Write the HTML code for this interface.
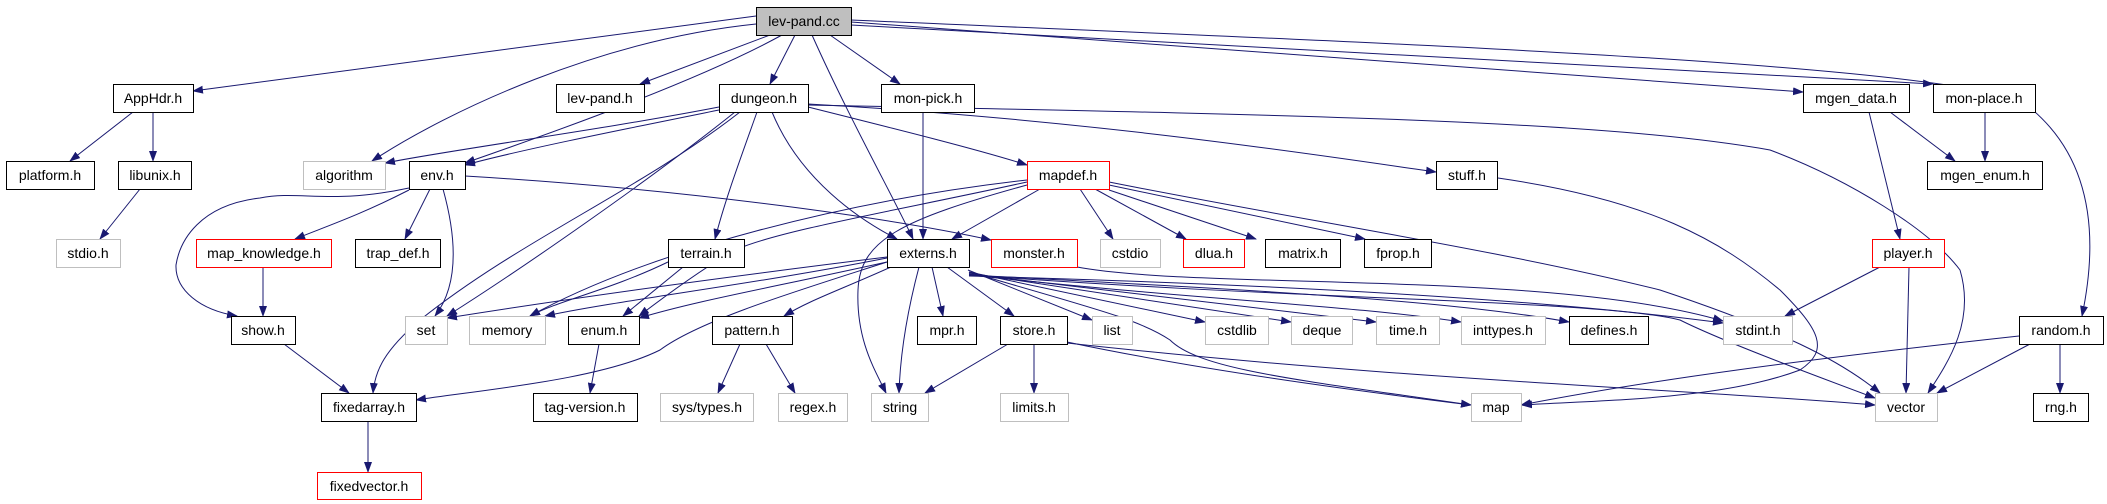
<!DOCTYPE html>
<html><head><meta charset="utf-8"><style>
html,body{margin:0;padding:0;background:#fff;}
svg{display:block;}
text{font-family:"Liberation Sans",sans-serif;font-size:14px;fill:#000;}
</style></head><body>
<svg width="2107" height="504" viewBox="0 0 2107 504" xmlns="http://www.w3.org/2000/svg">
<defs>
<marker id="a" markerWidth="11" markerHeight="8" refX="10" refY="4" orient="auto" markerUnits="userSpaceOnUse">
<path d="M0,0 L11,4 L0,8 Z" fill="#191970"/>
</marker>
</defs>
<g fill="none" stroke="#191970" stroke-width="1" marker-end="url(#a)">
<!-- lev-pand.cc -->
<path d="M756,16 L193,91"/>
<path d="M756,24 C600,40 450,110 372,161"/>
<path d="M770,35 L640,84"/>
<path d="M782,35 C700,80 560,130 465,163"/>
<path d="M795,35 L770,84"/>
<path d="M812,35 C850,120 895,200 913,239"/>
<path d="M830,35 L900,84"/>
<path d="M851,22 L1803,92"/>
<path d="M851,25 L1933,84"/>
<path d="M851,20 C1300,40 1900,60 2020,100 C2090,150 2100,230 2082,316"/>
<!-- dungeon.h -->
<path d="M719,107 C600,130 450,150 385,163"/>
<path d="M719,110 C620,130 520,150 465,165"/>
<path d="M735,112 C650,180 520,270 447,316"/>
<path d="M740,112 C640,190 520,240 420,320 C385,350 375,370 373,393"/>
<path d="M757,112 C740,160 725,200 715,239"/>
<path d="M772,112 C800,180 860,220 897,239"/>
<path d="M808,107 C900,130 980,150 1027,165"/>
<path d="M808,104 C1100,120 1350,160 1436,172"/>
<path d="M808,105 C1300,115 1600,120 1770,150 C1850,180 1930,230 1960,270 C1975,320 1950,360 1928,393"/>
<!-- env.h -->
<path d="M409,188 C330,205 300,190 260,198 C200,205 180,240 176,265 C175,290 200,310 237,316"/>
<path d="M409,190 C360,215 330,225 295,239"/>
<path d="M430,189 L405,239"/>
<path d="M443,189 C460,250 455,290 435,316"/>
<path d="M465,176 C700,190 900,220 991,240"/>
<!-- left small -->
<path d="M263,267 L263,316"/>
<path d="M284,344 L349,393"/>
<path d="M368,421 L368,472"/>
<path d="M133,112 L70,161"/>
<path d="M153,112 L153,161"/>
<path d="M140,189 L100,239"/>
<!-- mapdef.h -->
<path d="M1027,180 C850,200 650,250 530,316"/>
<path d="M1027,182 C900,210 780,230 735,250 C700,270 660,300 639,316"/>
<path d="M1040,189 L952,239"/>
<path d="M1027,185 C900,220 860,240 858,290 C856,340 875,370 886,393"/>
<path d="M1080,189 L1113,239"/>
<path d="M1095,189 L1186,239"/>
<path d="M1109,190 L1256,239"/>
<path d="M1109,185 L1365,239"/>
<path d="M1109,182 C1300,220 1500,250 1660,290 C1780,330 1840,360 1880,393"/>
<!-- terrain.h -->
<path d="M668,262 C610,290 560,300 530,316"/>
<path d="M683,267 L623,316"/>
<!-- externs.h -->
<path d="M887,257 C700,280 560,300 447,318"/>
<path d="M887,258 C750,285 620,300 545,316"/>
<path d="M887,262 C760,290 700,300 639,318"/>
<path d="M887,262 C800,290 700,320 660,350 C600,380 480,390 416,400"/>
<path d="M891,267 C840,290 810,300 784,316"/>
<path d="M919,267 C905,320 900,360 899,393"/>
<path d="M932,267 L943,316"/>
<path d="M947,267 L1014,316"/>
<path d="M968,270 L1092,320"/>
<path d="M969,272 L1205,322"/>
<path d="M969,273 L1291,322"/>
<path d="M969,274 L1376,322"/>
<path d="M969,275 C1200,300 1350,305 1461,322"/>
<path d="M969,275 C1250,290 1450,300 1569,322"/>
<path d="M969,276 C1300,285 1550,300 1723,323"/>
<path d="M969,272 C1100,310 1140,320 1170,340 C1200,370 1300,380 1471,405"/>
<path d="M969,275 C1300,300 1600,300 1680,320 C1720,340 1800,370 1875,398"/>
<path d="M1077,267 C1200,290 1550,270 1723,321"/>
<!-- pattern/store/enum -->
<path d="M740,344 L718,393"/>
<path d="M766,344 L795,393"/>
<path d="M1008,344 L925,393"/>
<path d="M1034,344 L1034,393"/>
<path d="M1067,342 C1200,370 1350,390 1471,405"/>
<path d="M1067,343 C1400,380 1700,390 1875,405"/>
<path d="M599,344 L590,393"/>
<!-- right -->
<path d="M1498,178 C1650,200 1720,240 1780,290 C1820,330 1830,350 1800,370 C1720,400 1600,400 1522,405"/>
<path d="M1869,112 L1900,239"/>
<path d="M1890,112 L1955,161"/>
<path d="M1985,112 L1985,161"/>
<path d="M1880,267 L1785,316"/>
<path d="M1909,267 L1906,393"/>
<path d="M2019,336 C1800,360 1650,380 1521,405"/>
<path d="M2030,344 L1937,393"/>
<path d="M2060,344 L2060,393"/>
<path d="M923,112 L923,239"/>
</g>
<g stroke-width="1">
<rect x="756.5" y="7.5" width="95" height="28" fill="#bfbfbf" stroke="#000"/><text x="804" y="26" text-anchor="middle">lev-pand.cc</text>
<rect x="113.5" y="84.5" width="80" height="28" fill="#fff" stroke="#000"/><text x="153" y="103" text-anchor="middle">AppHdr.h</text>
<rect x="556.5" y="84.5" width="88" height="28" fill="#fff" stroke="#000"/><text x="600" y="103" text-anchor="middle">lev-pand.h</text>
<rect x="719.5" y="84.5" width="89" height="28" fill="#fff" stroke="#000"/><text x="764" y="103" text-anchor="middle">dungeon.h</text>
<rect x="881.5" y="84.5" width="93" height="28" fill="#fff" stroke="#000"/><text x="928" y="103" text-anchor="middle">mon-pick.h</text>
<rect x="1803.5" y="84.5" width="106" height="28" fill="#fff" stroke="#000"/><text x="1856" y="103" text-anchor="middle">mgen_data.h</text>
<rect x="1933.5" y="84.5" width="102" height="28" fill="#fff" stroke="#000"/><text x="1984" y="103" text-anchor="middle">mon-place.h</text>

<rect x="6.5" y="161.5" width="88" height="28" fill="#fff" stroke="#000"/><text x="50" y="180" text-anchor="middle">platform.h</text>
<rect x="118.5" y="161.5" width="73" height="28" fill="#fff" stroke="#000"/><text x="155" y="180" text-anchor="middle">libunix.h</text>
<rect x="303.5" y="161.5" width="82" height="28" fill="#fff" stroke="#bfbfbf"/><text x="344" y="180" text-anchor="middle">algorithm</text>
<rect x="409.5" y="161.5" width="56" height="28" fill="#fff" stroke="#000"/><text x="437" y="180" text-anchor="middle">env.h</text>
<rect x="1027.5" y="161.5" width="82" height="28" fill="#fff" stroke="#ff0000"/><text x="1068" y="180" text-anchor="middle">mapdef.h</text>
<rect x="1436.5" y="161.5" width="61" height="28" fill="#fff" stroke="#000"/><text x="1467" y="180" text-anchor="middle">stuff.h</text>
<rect x="1927.5" y="161.5" width="115" height="28" fill="#fff" stroke="#000"/><text x="1985" y="180" text-anchor="middle">mgen_enum.h</text>

<rect x="56.5" y="239.5" width="64" height="28" fill="#fff" stroke="#bfbfbf"/><text x="88" y="258" text-anchor="middle">stdio.h</text>
<rect x="196.5" y="239.5" width="135" height="28" fill="#fff" stroke="#ff0000"/><text x="264" y="258" text-anchor="middle">map_knowledge.h</text>
<rect x="355.5" y="239.5" width="85" height="28" fill="#fff" stroke="#000"/><text x="398" y="258" text-anchor="middle">trap_def.h</text>
<rect x="668.5" y="239.5" width="76" height="28" fill="#fff" stroke="#000"/><text x="706" y="258" text-anchor="middle">terrain.h</text>
<rect x="887.5" y="239.5" width="82" height="28" fill="#fff" stroke="#000"/><text x="928" y="258" text-anchor="middle">externs.h</text>
<rect x="991.5" y="239.5" width="86" height="28" fill="#fff" stroke="#ff0000"/><text x="1034" y="258" text-anchor="middle">monster.h</text>
<rect x="1100.5" y="239.5" width="60" height="28" fill="#fff" stroke="#bfbfbf"/><text x="1130" y="258" text-anchor="middle">cstdio</text>
<rect x="1183.5" y="239.5" width="61" height="28" fill="#fff" stroke="#ff0000"/><text x="1214" y="258" text-anchor="middle">dlua.h</text>
<rect x="1265.5" y="239.5" width="75" height="28" fill="#fff" stroke="#000"/><text x="1303" y="258" text-anchor="middle">matrix.h</text>
<rect x="1364.5" y="239.5" width="67" height="28" fill="#fff" stroke="#000"/><text x="1398" y="258" text-anchor="middle">fprop.h</text>
<rect x="1872.5" y="239.5" width="72" height="28" fill="#fff" stroke="#ff0000"/><text x="1908" y="258" text-anchor="middle">player.h</text>

<rect x="231.5" y="316.5" width="64" height="28" fill="#fff" stroke="#000"/><text x="263" y="335" text-anchor="middle">show.h</text>
<rect x="405.5" y="316.5" width="42" height="28" fill="#fff" stroke="#bfbfbf"/><text x="426" y="335" text-anchor="middle">set</text>
<rect x="469.5" y="316.5" width="76" height="28" fill="#fff" stroke="#bfbfbf"/><text x="507" y="335" text-anchor="middle">memory</text>
<rect x="568.5" y="316.5" width="71" height="28" fill="#fff" stroke="#000"/><text x="604" y="335" text-anchor="middle">enum.h</text>
<rect x="712.5" y="316.5" width="80" height="28" fill="#fff" stroke="#000"/><text x="752" y="335" text-anchor="middle">pattern.h</text>
<rect x="917.5" y="316.5" width="59" height="28" fill="#fff" stroke="#000"/><text x="947" y="335" text-anchor="middle">mpr.h</text>
<rect x="1000.5" y="316.5" width="67" height="28" fill="#fff" stroke="#000"/><text x="1034" y="335" text-anchor="middle">store.h</text>
<rect x="1092.5" y="316.5" width="40" height="28" fill="#fff" stroke="#bfbfbf"/><text x="1112" y="335" text-anchor="middle">list</text>
<rect x="1205.5" y="316.5" width="63" height="28" fill="#fff" stroke="#bfbfbf"/><text x="1237" y="335" text-anchor="middle">cstdlib</text>
<rect x="1291.5" y="316.5" width="61" height="28" fill="#fff" stroke="#bfbfbf"/><text x="1322" y="335" text-anchor="middle">deque</text>
<rect x="1376.5" y="316.5" width="63" height="28" fill="#fff" stroke="#bfbfbf"/><text x="1408" y="335" text-anchor="middle">time.h</text>
<rect x="1461.5" y="316.5" width="84" height="28" fill="#fff" stroke="#bfbfbf"/><text x="1503" y="335" text-anchor="middle">inttypes.h</text>
<rect x="1569.5" y="316.5" width="79" height="28" fill="#fff" stroke="#000"/><text x="1609" y="335" text-anchor="middle">defines.h</text>
<rect x="1723.5" y="316.5" width="69" height="28" fill="#fff" stroke="#bfbfbf"/><text x="1758" y="335" text-anchor="middle">stdint.h</text>
<rect x="2019.5" y="316.5" width="84" height="28" fill="#fff" stroke="#000"/><text x="2061" y="335" text-anchor="middle">random.h</text>

<rect x="321.5" y="393.5" width="95" height="28" fill="#fff" stroke="#000"/><text x="369" y="412" text-anchor="middle">fixedarray.h</text>
<rect x="533.5" y="393.5" width="104" height="28" fill="#fff" stroke="#000"/><text x="585" y="412" text-anchor="middle">tag-version.h</text>
<rect x="660.5" y="393.5" width="93" height="28" fill="#fff" stroke="#bfbfbf"/><text x="707" y="412" text-anchor="middle">sys/types.h</text>
<rect x="778.5" y="393.5" width="69" height="28" fill="#fff" stroke="#bfbfbf"/><text x="813" y="412" text-anchor="middle">regex.h</text>
<rect x="871.5" y="393.5" width="57" height="28" fill="#fff" stroke="#bfbfbf"/><text x="900" y="412" text-anchor="middle">string</text>
<rect x="1000.5" y="393.5" width="68" height="28" fill="#fff" stroke="#bfbfbf"/><text x="1034" y="412" text-anchor="middle">limits.h</text>
<rect x="1471.5" y="393.5" width="50" height="28" fill="#fff" stroke="#bfbfbf"/><text x="1496" y="412" text-anchor="middle">map</text>
<rect x="1875.5" y="393.5" width="62" height="28" fill="#fff" stroke="#bfbfbf"/><text x="1906" y="412" text-anchor="middle">vector</text>
<rect x="2033.5" y="393.5" width="55" height="28" fill="#fff" stroke="#000"/><text x="2061" y="412" text-anchor="middle">rng.h</text>

<rect x="317.5" y="472.5" width="104" height="27" fill="#fff" stroke="#ff0000"/><text x="369" y="491" text-anchor="middle">fixedvector.h</text>
</g>
</svg>
</body></html>
